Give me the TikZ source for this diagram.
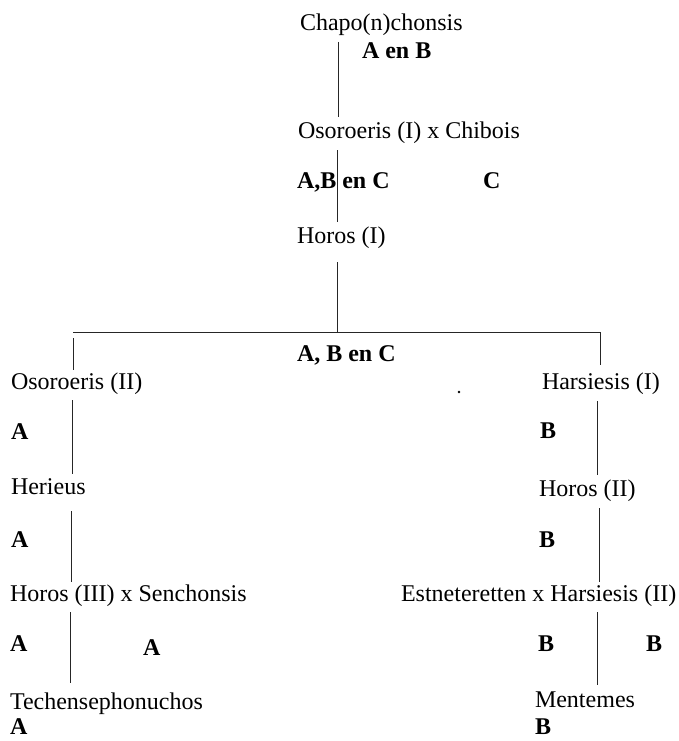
\documentclass[tikz,border=0pt]{standalone}
\usepackage{fontspec}
\setmainfont{Liberation Serif}
\begin{document}
\begin{tikzpicture}[x=1pt,y=-1pt,
  every node/.style={inner sep=0pt,outer sep=0pt,anchor=west,text height=0.66em,text depth=0pt},
  txt/.style={yshift=-3.5pt,font=\fontsize{24}{28}\selectfont},
  lbl/.style={yshift=-2pt,font=\fontsize{24}{28}\selectfont\bfseries},
  conn/.style={line width=0.8pt,draw=black!85}]
\useasboundingbox (0,0) rectangle (679,741);
% top
\node[txt] (chapo) at (300,24) {Chapo(n)chonsis};
\node[lbl] (l1) at (362,53) {A en B};
\node[txt] (oso1) at (298,132) {Osoroeris (I) x Chibois};
\node[lbl] (l2) at (297,183) {A,B en C};
\node[lbl] (l3) at (483,183) {C};
\node[txt] (hor1) at (297,237) {Horos (I)};
\node[lbl] (l4) at (297,356) {A, B en C};
% left branch
\node[txt] (oso2) at (11,383) {Osoroeris (II)};
\node[lbl] (la1) at (11,434) {A};
\node[txt] (her) at (11,488) {Herieus};
\node[lbl] (la2) at (11,542) {A};
\node[txt] (hor3) at (10,595) {Horos (III) x Senchonsis};
\node[lbl] (la3) at (10,646) {A};
\node[lbl] (la4) at (143,650) {A};
\node[txt] (tech) at (10,703) {Techensephonuchos};
\node[lbl] (la5) at (10,729.5) {A};
% right branch
\node[txt] (har1) at (542,383) {Harsiesis (I)};
\node[lbl] (lb1) at (540,433) {B};
\node[txt] (hor2) at (539,490) {Horos (II)};
\node[lbl] (lb2) at (539,542) {B};
\node[txt] (est) at (401,595) {Estneteretten x Harsiesis (II)};
\node[lbl] (lb3) at (538,646) {B};
\node[lbl] (lb4) at (646,646) {B};
\node[txt] (ment) at (535,701) {Mentemes};
\node[lbl] (lb5) at (535,729.5) {B};
% dot
\fill (459,392) circle (1.4pt);
% connector coordinates
\coordinate (c1a) at (338,42);  \coordinate (c1b) at (338,117);
\coordinate (c2a) at (337,150); \coordinate (c2b) at (337,222);
\coordinate (c3a) at (337,262); \coordinate (c3b) at (337,332);
\coordinate (hl) at (73,332);   \coordinate (hr) at (600,332);
\coordinate (vl1a) at (73,338); \coordinate (vl1b) at (73,370);
\coordinate (vr1b) at (600,365);
\coordinate (vl2a) at (72,400); \coordinate (vl2b) at (72,474);
\coordinate (vl3a) at (71,511); \coordinate (vl3b) at (71,582);
\coordinate (vl4a) at (70,612); \coordinate (vl4b) at (70,683);
\coordinate (vr2a) at (597,401); \coordinate (vr2b) at (597,475);
\coordinate (vr3a) at (599,508); \coordinate (vr3b) at (599,582);
\coordinate (vr4a) at (597,612); \coordinate (vr4b) at (597,685);
\draw[conn] (c1a) -- (c1b);
\draw[conn] (c2a) -- (c2b);
\draw[conn] (c3a) -- (c3b);
\draw[conn] (hl) -- (hr) -- (vr1b);
\draw[conn] (vl1a) -- (vl1b);
\draw[conn] (vl2a) -- (vl2b);
\draw[conn] (vl3a) -- (vl3b);
\draw[conn] (vl4a) -- (vl4b);
\draw[conn] (vr2a) -- (vr2b);
\draw[conn] (vr3a) -- (vr3b);
\draw[conn] (vr4a) -- (vr4b);
\end{tikzpicture}
\end{document}
